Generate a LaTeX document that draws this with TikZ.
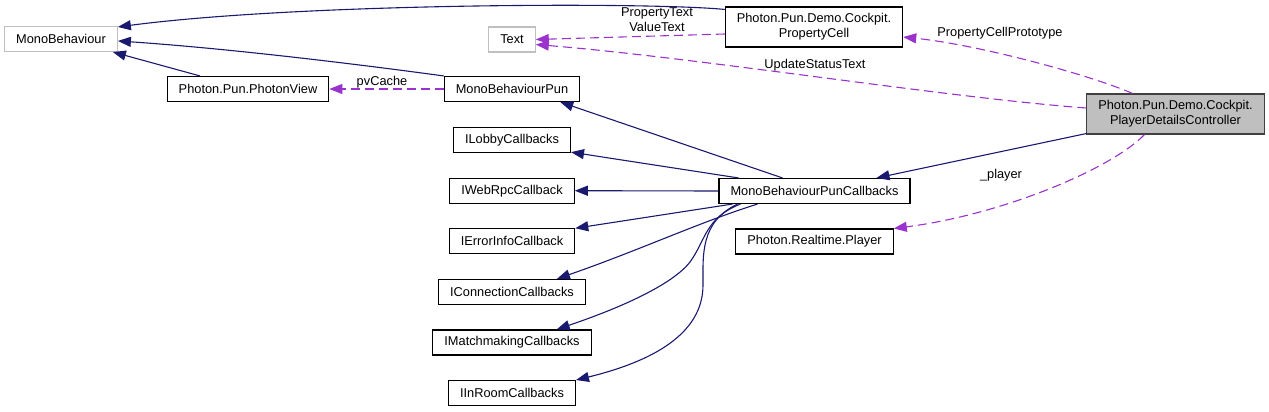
\documentclass[tikz,border=0pt]{standalone}
\usepackage{fontspec}
\setmainfont{Liberation Sans}
\usepackage{tikz}
\usetikzlibrary{arrows.meta, positioning, calc}
\definecolor{inhcolor}{RGB}{25, 25, 112}
\definecolor{usecolor}{RGB}{154, 50, 205}
\definecolor{extcolor}{RGB}{191, 191, 191}
\definecolor{curcolor}{RGB}{64, 64, 64}

\begin{document}
\begin{tikzpicture}[
    x=1pt, y=-1pt,
    every node/.style={font=\fontsize{12.8}{15}\selectfont},
    cls/.style={rectangle, draw=black, line width=1.1pt, inner xsep=11.5pt, minimum height=25pt},
    ext/.style={cls, draw=extcolor},
    two/.style={cls, align=center, minimum height=40pt},
    cur/.style={two, fill=extcolor, draw=curcolor},
    inh/.style={draw=inhcolor, line width=1.1pt, -{Triangle[length=13pt, width=10pt]}},
    use/.style={draw=usecolor, line width=1.1pt, dash pattern=on 9pt off 5pt, -{Triangle[length=13pt, width=10pt]}},
    lbl/.style={inner sep=0pt},
]
    \useasboundingbox (0,0) rectangle (1269,412);

    % classes
    \node[ext] (mono) at (61, 39) {MonoBehaviour};
    \node[ext] (text) at (512, 39.5) {Text};
    \node[two] (pcell) at (814, 27) {Photon.Pun.Demo.Cockpit.\\PropertyCell};
    \node[cur] (pdc) at (1175.5, 114) {Photon.Pun.Demo.Cockpit.\\PlayerDetailsController};
    \node[cls] (pview) at (248, 89) {Photon.Pun.PhotonView};
    \node[cls] (mbpun) at (512, 89) {MonoBehaviourPun};
    \foreach \name/\txt [count=\k] in {lobby/ILobbyCallbacks, webrpc/IWebRpcCallback,
        errinfo/IErrorInfoCallback, conn/IConnectionCallbacks,
        match/IMatchmakingCallbacks, inroom/IInRoomCallbacks} {
        \node[cls] (\name) at (512, 89.5+\k*50.6) {\txt};
    }
    \node[cls] (mbpc) at (814.5, 191) {MonoBehaviourPunCallbacks};
    \node[cls] (player) at (814.5, 241.5) {Photon.Realtime.Player};

    % inheritance
    \draw[inh] ([yshift=-3pt]pcell.north west) .. controls (650,2) and (300,3) .. ([yshift=-1pt]mono.north east);
    \draw[inh] (mbpun.north west) .. controls (400,70) and (250,50) .. ([yshift=-15pt]mono.north east);
    \draw[inh] ([xshift=-48pt]pview.north) -- ([xshift=-5pt]mono.south east);
    \draw[inh] ([xshift=-32pt]mbpc.north) -- ([xshift=-20pt]mbpun.south east);
    \draw[inh] ([xshift=-76pt]mbpc.north) -- ([yshift=1pt]lobby.south east);
    \draw[inh] (mbpc.west) -- (webrpc.east);
    \draw[inh] ([xshift=-82pt]mbpc.south) -- (errinfo.north east);
    \draw[inh] ([xshift=-57pt]mbpc.south) .. controls (700,222) and (640,250) .. ([xshift=-29pt]conn.north east);
    \draw[inh] ([xshift=-74pt]mbpc.south) .. controls (705,218) and (706,240) .. (690,262)
        .. controls (672,285) and (620,308) .. ([xshift=-35pt]match.north east);
    \draw[inh] ([xshift=-77pt]mbpc.south) .. controls (700,222) and (703,255) .. (703,285)
        .. controls (703,335) and (650,362) .. (inroom.north east);
    \draw[inh] ([yshift=1pt]pdc.south west) -- ([xshift=-34pt]mbpc.north east);

    % usage
    \draw[use] (mbpun.west) -- (pview.east);
    \node[lbl] (lpv) at (382, 82) {pvCache};
    \draw[use] ([yshift=-7pt]pcell.west) -- (text.east);
    \node[lbl, align=center] (lpc) at (657, 20) {PropertyText\\ValueText};
    \draw[use] ([yshift=6pt]pdc.west) .. controls (950,98) and (700,58) .. ([yshift=-5pt]text.east);
    \node[lbl] (lus) at (815, 65) {UpdateStatusText};
    \draw[use] ([xshift=-43pt]pdc.north) .. controls (1090,75) and (980,45) .. ([yshift=-10pt]pcell.east);
    \node[lbl] (lpp) at (1000, 33) {PropertyCellPrototype};
    \draw[use] ([xshift=-31pt]pdc.south) .. controls (1110,170) and (1000,215) .. (player.north east);
    \node[lbl] (lpl) at (1001, 175) {\_player};
\end{tikzpicture}
\end{document}
